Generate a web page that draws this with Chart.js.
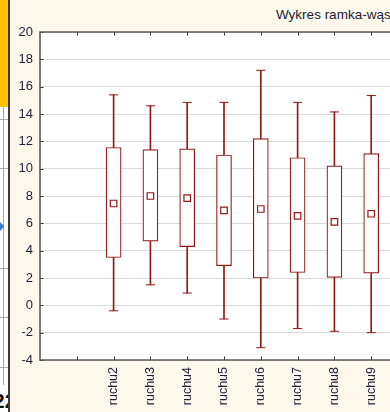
<!DOCTYPE html>
<html>
<head>
<meta charset="utf-8">
<script src="https://cdn.jsdelivr.net/npm/chart.js@4.4.1/dist/chart.umd.min.js"></script>
<style>
  html, body { margin:0; padding:0; width:390px; height:412px; overflow:hidden; background:#fdf8ec; }
  #strip { position:absolute; left:0; top:0; width:8px; height:412px; background:#ffffff; overflow:hidden; }
  #orange { position:absolute; left:0; top:0; width:8px; height:107px; background:#ffc000; }
  .hl { position:absolute; left:0; width:8px; height:1px; background:#a8a8a8; }
  #vl { position:absolute; left:3px; top:107px; width:1px; height:278px; background:#a8a8a8; }
  #arrow { position:absolute; left:-4px; top:223px; width:7px; height:7px; background:#3f7fd0; transform:rotate(45deg); }
  #num { position:absolute; left:-7px; top:389px; font:bold 21px "Liberation Sans", Arial, sans-serif; color:#111; line-height:24px; }
  #edge { position:absolute; left:8px; top:0; width:2px; height:412px; background:#3a3a3a; }
  #title { position:absolute; left:276px; top:7px; font:13.5px "Liberation Sans", Arial, sans-serif; color:#1c1c30; white-space:nowrap; }
  #chart { position:absolute; left:10px; top:0; }
</style>
</head>
<body>
<div id="strip">
  <div id="orange"></div>
  <div class="hl" style="top:119px"></div>
  <div class="hl" style="top:168px"></div>
  <div class="hl" style="top:268px"></div>
  <div class="hl" style="top:317px"></div>
  <div class="hl" style="top:367px"></div>
  <div id="vl"></div>
  <div id="arrow"></div>
  <div id="num">22</div>
</div>
<div id="edge"></div>
<div id="title">Wykres ramka-wąsy</div>
<canvas id="chart" width="420" height="412"></canvas>
<script>
// ---- data ----
const categories = ['ruchu2','ruchu3','ruchu4','ruchu5','ruchu6','ruchu7','ruchu8','ruchu9'];
const whiskerMin = [-0.4, 1.5, 0.9, -1.0, -3.1, -1.7, -1.9, -2.0];
const boxLow     = [ 3.5, 4.7, 4.3,  2.9,  2.0,  2.4,  2.05, 2.35];
const centre     = [ 7.45, 8.0, 7.85, 6.95, 7.05, 6.55, 6.1, 6.7];
const boxHigh    = [11.55, 11.4, 11.45, 11.0, 12.2, 10.8, 10.2, 11.1];
const whiskerMax = [15.4, 14.6, 14.85, 14.85, 17.2, 14.85, 14.15, 15.35];
const yTicks = { min: -4, max: 20, step: 2 };

// axis slots: two leading slots (edge + blank tick) and one trailing slot
const labels = ['', ''].concat(categories, ['']);
const pad = arr => [null, null].concat(arr, [null]);

const RED = '#941616';

const framePlugin = {
  id: 'frame',
  beforeDraw(chart) {
    const { ctx, chartArea: a } = chart;
    ctx.save();
    ctx.fillStyle = '#ffffff';
    ctx.fillRect(a.left, a.top, chart.width - a.left, a.bottom - a.top);
    ctx.restore();
  },
  afterDraw(chart) {
    const { ctx, chartArea: a, scales } = chart;
    const x = scales.x, y = scales.y;
    ctx.save();
    ctx.strokeStyle = '#333333';
    ctx.lineWidth = 1;
    ctx.beginPath();
    y.ticks.forEach(t => {
      const py = Math.round(y.getPixelForValue(t.value)) + 0.5;
      ctx.moveTo(a.left, py); ctx.lineTo(a.left + 3.5, py);
    });
    x.ticks.forEach((t, i) => {
      if (i === 0) return;
      const px = Math.round(x.getPixelForTick(i)) + 0.5;
      ctx.moveTo(px, a.top); ctx.lineTo(px, a.top + 3.5);
      ctx.moveTo(px, a.bottom); ctx.lineTo(px, a.bottom - 3.5);
    });
    ctx.stroke();
    ctx.strokeStyle = '#5a5a5a';
    ctx.lineWidth = 1.6;
    ctx.beginPath();
    ctx.moveTo(chart.width, a.top);
    ctx.lineTo(a.left, a.top);
    ctx.lineTo(a.left, a.bottom);
    ctx.lineTo(chart.width, a.bottom);
    ctx.stroke();
    ctx.restore();
  }
};

new Chart(document.getElementById('chart'), {
  type: 'bar',
  data: {
    labels: labels,
    datasets: [
      {
        type: 'line', label: 'centre', data: pad(centre), showLine: false,
        pointStyle: 'rect', pointRadius: 4.6, pointBorderWidth: 1.2,
        pointBackgroundColor: '#ffffff', pointBorderColor: RED, order: 0
      },
      {
        label: 'box', data: pad(boxLow.map((v, i) => [v, boxHigh[i]])),
        backgroundColor: '#ffffff', borderColor: RED, borderWidth: 1.2, borderSkipped: false,
        barThickness: 15, grouped: false, order: 1
      },
      {
        type: 'line', label: 'max', data: pad(whiskerMax), showLine: false,
        pointStyle: 'line', pointRadius: 4.6, pointBorderWidth: 1,
        pointBorderColor: RED, order: 2
      },
      {
        type: 'line', label: 'min', data: pad(whiskerMin), showLine: false,
        pointStyle: 'line', pointRadius: 4.6, pointBorderWidth: 1,
        pointBorderColor: RED, order: 2
      },
      {
        label: 'whisker', data: pad(whiskerMin.map((v, i) => [v, whiskerMax[i]])),
        backgroundColor: RED, borderWidth: 0, barThickness: 1, grouped: false, order: 3
      }
    ]
  },
  options: {
    responsive: false,
    animation: false,
    layout: { padding: { top: 32, right: 19, left: 0, bottom: 0 } },
    plugins: { legend: { display: false }, tooltip: { enabled: false }, title: { display: false } },
    scales: {
      x: {
        offset: false,
        grid: { display: false, drawTicks: false },
        border: { display: false },
        ticks: {
          autoSkip: false, minRotation: 90, maxRotation: 90, padding: 7,
          color: '#1e1e3c', font: { family: '"Liberation Sans", Arial, sans-serif', size: 12.5 }
        },
        afterFit(s) { s.height = 52; }
      },
      y: {
        min: yTicks.min, max: yTicks.max,
        grid: { color: '#d9d9d9', lineWidth: 1, drawTicks: false },
        border: { display: false },
        ticks: {
          stepSize: yTicks.step, padding: 7,
          color: '#1e1e3c', font: { family: '"Liberation Sans", Arial, sans-serif', size: 13 }
        },
        afterFit(s) { s.width = 30; }
      }
    }
  },
  plugins: [framePlugin]
});
</script>
</body>
</html>
